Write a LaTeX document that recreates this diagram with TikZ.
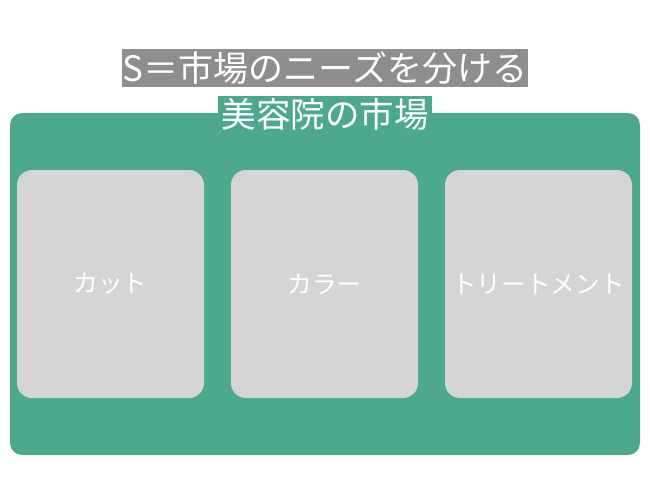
\documentclass[tikz,border=0pt]{standalone}
\usepackage{fontspec}
\setmainfont{Noto Sans CJK JP}
\definecolor{mktgreen}{HTML}{4CA98E}
\definecolor{titlegrey}{HTML}{8E8E8E}
\definecolor{boxgrey}{HTML}{D5D5D5}
\tikzset{
  titlebox/.style={fill=titlegrey, text=white, inner sep=0pt, minimum width=406pt, minimum height=38pt, font=\fontsize{35}{35}\selectfont},
  labelbox/.style={fill=mktgreen, text=white, inner sep=0pt, minimum width=214pt, minimum height=36pt, font=\fontsize{34.5}{34.5}\selectfont},
  market/.style={fill=mktgreen, draw=none, rounded corners=12pt, inner sep=0pt, minimum width=630pt, minimum height=342pt},
  segment/.style={fill=boxgrey, draw=none, rounded corners=15pt, inner sep=0pt, minimum width=187pt, minimum height=228pt, text=white, font=\fontsize{24.7}{24.7}\selectfont},
}
\begin{document}
\begin{tikzpicture}[x=1pt,y=-1pt]
\useasboundingbox (0,0) rectangle (650,500);
\node[market] (mkt) at (325,284) {};
\node[titlebox] (title) at (325,68) {S＝市場のニーズを分ける};
\node[labelbox] (label) at (325,114) {美容院の市場};
\node[segment] (cut) at (110.5,284) {カット};
\node[segment] (color) at (324.5,284) {カラー};
\node[segment] (treat) at (538.5,284) {トリートメント};
\end{tikzpicture}
\end{document}
